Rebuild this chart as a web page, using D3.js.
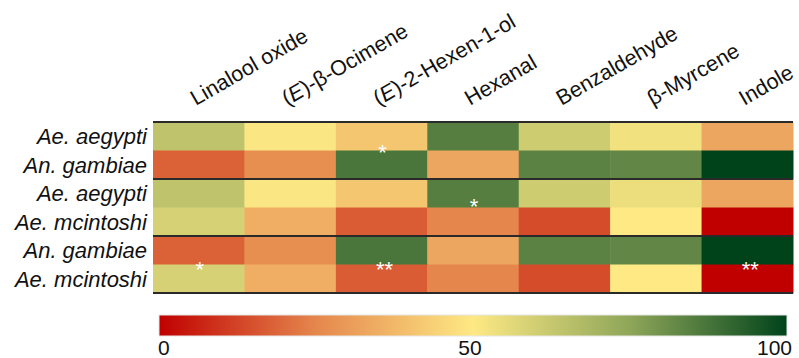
<!DOCTYPE html>
<html>
<head>
<meta charset="utf-8">
<script src="https://cdn.jsdelivr.net/npm/d3@7"></script>
<style>
  body { margin: 0; background: #fff; }
  svg { display: block; font-family: "Liberation Sans", Arial, sans-serif; }
</style>
</head>
<body>
<svg id="chart"></svg>
<script>
// compounds across the top
const compounds = [
  [{ t: "Linalool oxide" }],
  [{ t: "(" }, { t: "E", i: true }, { t: ")-β-Ocimene" }],
  [{ t: "(" }, { t: "E", i: true }, { t: ")-2-Hexen-1-ol" }],
  [{ t: "Hexanal" }],
  [{ t: "Benzaldehyde" }],
  [{ t: "β-Myrcene" }],
  [{ t: "Indole" }]
];

// species rows, grouped in pairs
const species = ["Ae. aegypti", "An. gambiae", "Ae. aegypti", "Ae. mcintoshi", "An. gambiae", "Ae. mcintoshi"];

// one array per row, values 0-100
const row1 = [64, 51, 41, 85, 61, 53, 33];
const row2 = [18, 27, 87, 33, 84, 83, 100];
const row3 = [64, 51, 41, 85, 61, 54, 33];
const row4 = [59, 35, 17, 25, 14, 50, 0];
const row5 = [18, 27, 87, 33, 84, 83, 100];
const row6 = [59, 35, 17, 25, 14, 50, 0];
const values = [row1, row2, row3, row4, row5, row6];

// significance marks: pair index (0..2), column, text
const stars = [
  { pair: 0, col: 2, text: "*" },
  { pair: 1, col: 3, text: "*" },
  { pair: 2, col: 0, text: "*" },
  { pair: 2, col: 2, text: "**" },
  { pair: 2, col: 6, text: "**" }
];

const scaleStops = [0, 25, 50, 75, 100];
const scaleColors = ["#c00000", "#e5874d", "#fee984", "#8ea659", "#00431b"];
const legendTicks = [0, 50, 100];

const W = 799, H = 358;
// stars were nudged by hand in the original, per pair
const starNudge = [-5, -8, -2];

const svg = d3.select("#chart").attr("width", W).attr("height", H);

const x = d3.scaleBand().domain(d3.range(compounds.length)).range([153, 793]).padding(0);
const y = d3.scaleBand().domain(d3.range(species.length)).range([122, 293]).padding(0);
const color = d3.scaleLinear().domain(scaleStops).range(scaleColors).interpolate(d3.interpolateRgb).clamp(true);

// cells
const cells = [];
values.forEach((row, r) => row.forEach((v, c) => cells.push({ r, c, v })));
svg.append("g").selectAll("rect").data(cells).join("rect")
  .attr("x", d => x(d.c))
  .attr("y", d => y(d.r))
  .attr("width", x.bandwidth() + 0.5)
  .attr("height", y.bandwidth() + 0.5)
  .attr("fill", d => color(d.v));

// pair separators
const seps = [0, 2, 4, 6];
svg.append("g").selectAll("line").data(seps).join("line")
  .attr("x1", 153).attr("x2", 793)
  .attr("y1", d => d === 6 ? y.range()[1] : y(d))
  .attr("y2", d => d === 6 ? y.range()[1] : y(d))
  .attr("stroke", "#2a2a2a").attr("stroke-width", 2);

// row labels
svg.append("g").selectAll("text").data(species).join("text")
  .attr("x", 147)
  .attr("y", (d, i) => y(i) + y.bandwidth() / 2 + 8)
  .attr("text-anchor", "end")
  .attr("font-size", 22)
  .attr("font-style", "italic")
  .attr("fill", "#111")
  .text(d => d);

// column labels
const colLab = svg.append("g").selectAll("text").data(compounds).join("text")
  .attr("transform", (d, i) => `translate(${x(i) + x.bandwidth() / 2 - 3},106) rotate(-30)`)
  .attr("font-size", 21.5)
  .attr("fill", "#111");
colLab.selectAll("tspan").data(d => d).join("tspan")
  .attr("font-style", d => d.i ? "italic" : null)
  .text(d => d.t);

// stars
svg.append("g").selectAll("text").data(stars).join("text")
  .attr("x", d => x(d.col) + x.bandwidth() / 2 + (d.text.length > 1 ? 3 : 1))
  .attr("y", d => y(d.pair * 2 + 1) + 14 + starNudge[d.pair])
  .attr("text-anchor", "middle")
  .attr("font-size", 22)
  .attr("fill", "#fff")
  .text(d => d.text);

// colour bar
const lx = d3.scaleLinear().domain([0, 100]).range([159, 787]);
const grad = svg.append("defs").append("linearGradient").attr("id", "grad");
grad.selectAll("stop").data(scaleStops).join("stop")
  .attr("offset", d => d + "%")
  .attr("stop-color", d => color(d));
svg.append("rect")
  .attr("x", lx(0)).attr("y", 315)
  .attr("width", lx(100) - lx(0)).attr("height", 21)
  .attr("fill", "url(#grad)")
  .attr("stroke", "#e6e6e6").attr("stroke-width", 1);

svg.append("g").selectAll("text").data(legendTicks).join("text")
  .attr("x", d => d === 0 ? lx(d) - 1 : d === 100 ? lx(d) + 5 : lx(d) - 3)
  .attr("y", 355)
  .attr("text-anchor", d => d === 0 ? "start" : d === 100 ? "end" : "middle")
  .attr("font-size", 21)
  .attr("fill", "#111")
  .text(d => d);
</script>
</body>
</html>
